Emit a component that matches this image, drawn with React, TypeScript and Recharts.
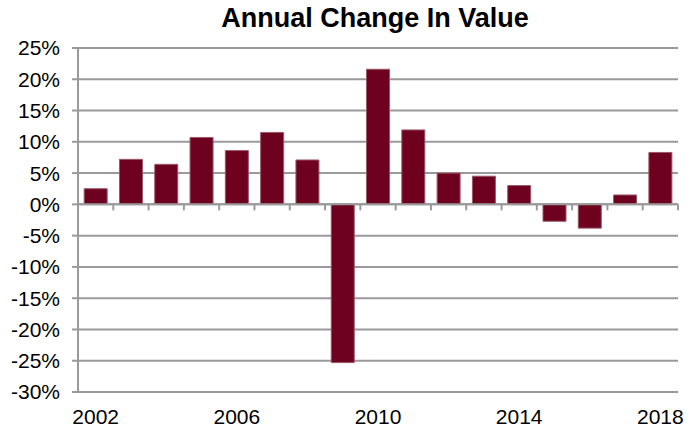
import React from 'react';
import { BarChart, Bar, XAxis, YAxis, CartesianGrid, ReferenceLine } from 'recharts';

const years = ['2002', '2003', '2004', '2005', '2006', '2007', '2008', '2009', '2010', '2011', '2012', '2013', '2014', '2015', '2016', '2017', '2018'];
const changes = [2.5, 7.2, 6.4, 10.7, 8.6, 11.5, 7.1, -25.3, 21.6, 11.9, 5.0, 4.5, 3.0, -2.7, -3.8, 1.5, 8.3];
const yTicks = [-30, -25, -20, -15, -10, -5, 0, 5, 10, 15, 20, 25];
const title = 'Annual Change In Value';

const data = years.map((year, i) => ({ year, change: changes[i] }));

const GRID = '#9a9a9a';
const BAR = '#6E0020';
const FONT = '"Liberation Sans", Arial, sans-serif';

const ZeroAxis = (props: any) => {
  const { x1, y1, x2, y2 } = props;
  if (x1 == null || y1 == null) return null;
  const n = years.length;
  const step = (x2 - x1) / n;
  const marks = [];
  for (let i = 1; i <= n; i++) {
    const x = x1 + i * step;
    marks.push(<line key={i} x1={x} y1={y1} x2={x} y2={y1 + 6} stroke={GRID} strokeWidth={2} />);
  }
  return (
    <g>
      <line x1={x1} y1={y1} x2={x2} y2={y2} stroke={GRID} strokeWidth={2} />
      {marks}
    </g>
  );
};

export default function App() {
  return (
    <div style={{ position: 'absolute', left: 0, top: 0, width: 698, height: 430, background: '#fff', fontFamily: FONT }}>
      <BarChart
        width={698}
        height={430}
        data={data}
        margin={{ top: 48, right: 20, bottom: 0, left: 0 }}
        barCategoryGap="17.5%"
      >
        <CartesianGrid vertical={false} stroke={GRID} strokeWidth={2} />
        <XAxis
          dataKey="year"
          interval={3}
          tickLine={false}
          axisLine={false}
          height={38}
          tickSize={6}
          tickMargin={11}
          tick={{ fill: '#000', fontSize: 21, fontFamily: FONT }}
        />
        <YAxis
          domain={[-30, 25]}
          ticks={yTicks}
          width={78}
          tickFormatter={(v: number) => `${v}%`}
          axisLine={{ stroke: GRID, strokeWidth: 2 }}
          tickLine={{ stroke: GRID, strokeWidth: 2 }}
          tickSize={6}
          tickMargin={12}
          tick={{ fill: '#000', fontSize: 21, fontFamily: FONT }}
          allowDataOverflow
        />
        <Bar dataKey="change" fill={BAR} stroke="#9a5868" strokeWidth={1} isAnimationActive={false} />
        <ReferenceLine y={0} shape={ZeroAxis} />
      </BarChart>
      <svg width={698} height={40} style={{ position: 'absolute', left: 0, top: 0, pointerEvents: 'none' }}>
        <text x={375} y={27} textAnchor="middle" fontFamily={FONT} fontWeight="bold" fontSize={27} fill="#000">
          {title}
        </text>
      </svg>
    </div>
  );
}
